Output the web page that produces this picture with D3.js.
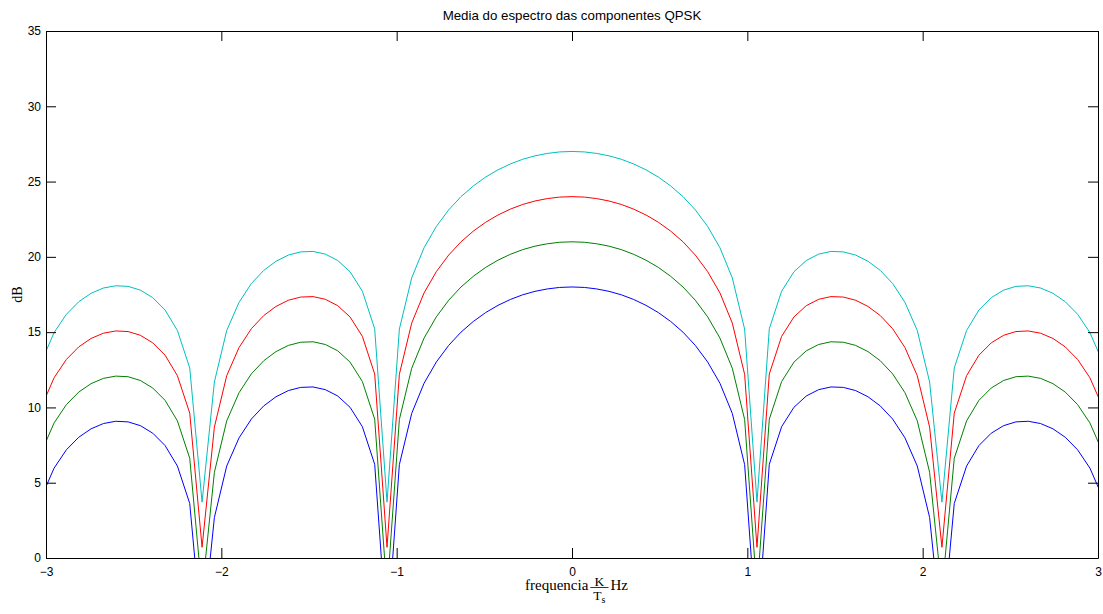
<!DOCTYPE html>
<html><head><meta charset="utf-8">
<script src="https://cdn.jsdelivr.net/npm/d3@7"></script>
<style>body{margin:0;background:#fff;} svg{display:block}</style>
</head><body>
<svg id="chart" width="1103" height="614"></svg>
<script>
// ---- data ----
const frequency = [-3.0242,-2.9539,-2.8835,-2.8132,-2.7429,-2.6725,-2.6022,-2.5319,-2.4616,-2.3912,-2.3209,-2.2506,-2.1802,-2.1099,-2.0396,-1.9692,-1.8989,-1.8286,-1.7583,-1.6879,-1.6176,-1.5473,-1.4769,-1.4066,-1.3363,-1.2659,-1.1956,-1.1253,-1.0550,-0.9846,-0.9143,-0.8440,-0.7736,-0.7033,-0.6330,-0.5626,-0.4923,-0.4220,-0.3517,-0.2813,-0.2110,-0.1407,-0.0703,0,0.0703,0.1407,0.2110,0.2813,0.3517,0.4220,0.4923,0.5626,0.6330,0.7033,0.7736,0.8440,0.9143,0.9846,1.0550,1.1253,1.1956,1.2659,1.3363,1.4066,1.4769,1.5473,1.6176,1.6879,1.7583,1.8286,1.8989,1.9692,2.0396,2.1099,2.1802,2.2506,2.3209,2.3912,2.4616,2.5319,2.6022,2.6725,2.7429,2.8132,2.8835,2.9539,3.0242];

const blueSeries = [4.09,5.97,7.19,8.02,8.58,8.93,9.08,9.04,8.79,8.29,7.47,6.11,3.62,-5.29,2.69,6.11,7.98,9.23,10.10,10.71,11.12,11.33,11.36,11.18,10.76,10.01,8.72,6.22,-5.29,6.20,9.60,11.60,13.02,14.12,15.00,15.71,16.30,16.78,17.17,17.48,17.71,17.87,17.97,18.00,17.97,17.87,17.71,17.48,17.17,16.78,16.30,15.71,15.00,14.12,13.02,11.60,9.60,6.20,-5.29,6.22,8.72,10.01,10.76,11.18,11.36,11.33,11.12,10.71,10.10,9.23,7.98,6.11,2.69,-5.29,3.62,6.11,7.47,8.29,8.79,9.04,9.08,8.93,8.58,8.02,7.19,5.97,4.09];

const greenSeries = [7.09,8.97,10.19,11.02,11.58,11.93,12.08,12.04,11.79,11.29,10.47,9.11,6.62,-2.29,5.69,9.11,10.98,12.23,13.10,13.71,14.12,14.33,14.36,14.18,13.76,13.01,11.72,9.22,-2.29,9.20,12.60,14.60,16.02,17.12,18.00,18.71,19.30,19.78,20.17,20.48,20.71,20.87,20.97,21.00,20.97,20.87,20.71,20.48,20.17,19.78,19.30,18.71,18.00,17.12,16.02,14.60,12.60,9.20,-2.29,9.22,11.72,13.01,13.76,14.18,14.36,14.33,14.12,13.71,13.10,12.23,10.98,9.11,5.69,-2.29,6.62,9.11,10.47,11.29,11.79,12.04,12.08,11.93,11.58,11.02,10.19,8.97,7.09];

const redSeries = [10.09,11.97,13.19,14.02,14.58,14.93,15.08,15.04,14.79,14.29,13.47,12.11,9.62,0.71,8.69,12.11,13.98,15.23,16.10,16.71,17.12,17.33,17.36,17.18,16.76,16.01,14.72,12.22,0.71,12.20,15.60,17.60,19.02,20.12,21.00,21.71,22.30,22.78,23.17,23.48,23.71,23.87,23.97,24.00,23.97,23.87,23.71,23.48,23.17,22.78,22.30,21.71,21.00,20.12,19.02,17.60,15.60,12.20,0.71,12.22,14.72,16.01,16.76,17.18,17.36,17.33,17.12,16.71,16.10,15.23,13.98,12.11,8.69,0.71,9.62,12.11,13.47,14.29,14.79,15.04,15.08,14.93,14.58,14.02,13.19,11.97,10.09];

const cyanSeries = [13.09,14.97,16.19,17.02,17.58,17.93,18.08,18.04,17.79,17.29,16.47,15.11,12.62,3.71,11.69,15.11,16.98,18.23,19.10,19.71,20.12,20.33,20.36,20.18,19.76,19.01,17.72,15.22,3.71,15.20,18.60,20.60,22.02,23.12,24.00,24.71,25.30,25.78,26.17,26.48,26.71,26.87,26.97,27.00,26.97,26.87,26.71,26.48,26.17,25.78,25.30,24.71,24.00,23.12,22.02,20.60,18.60,15.20,3.71,15.22,17.72,19.01,19.76,20.18,20.36,20.33,20.12,19.71,19.10,18.23,16.98,15.11,11.69,3.71,12.62,15.11,16.47,17.29,17.79,18.04,18.08,17.93,17.58,17.02,16.19,14.97,13.09];

const seriesNames = ["blue","green","red","cyan"];
const xTicks = [-3,-2,-1,0,1,2,3];
const yTicks = [0,5,10,15,20,25,30,35];
const xDomain = [-3, 3];
const yDomain = [0, 35];
const titleText = "Media do espectro das componentes QPSK";
const yLabelText = "dB";

// ---- layout / style ----
const seriesColors = {blue:"#0000ff", green:"#008000", red:"#ff0000", cyan:"#00bfbf"};
const seriesData = {blue:blueSeries, green:greenSeries, red:redSeries, cyan:cyanSeries};
const W = 1103, H = 614;
const plot = {left:46, top:31, right:1098, bottom:558};

const svg = d3.select("#chart");
svg.append("rect").attr("width",W).attr("height",H).attr("fill","#fff");

const x = d3.scaleLinear().domain(xDomain).range([plot.left, plot.right]);
const y = d3.scaleLinear().domain(yDomain).range([plot.bottom, plot.top]);

svg.append("defs").append("clipPath").attr("id","clip")
  .append("rect").attr("x",plot.left).attr("y",plot.top)
  .attr("width",plot.right-plot.left).attr("height",plot.bottom-plot.top);

const line = d3.line().x((d,i)=>x(frequency[i])).y(d=>y(d));
const lines = svg.append("g").attr("clip-path","url(#clip)");
seriesNames.forEach(name=>{
  lines.append("path").datum(seriesData[name])
    .attr("d", line).attr("fill","none")
    .attr("stroke", seriesColors[name]).attr("stroke-width",1);
});

const tickFont = "'Liberation Sans', Arial, Helvetica, sans-serif";
function styleAxis(g){
  g.selectAll("path.domain").attr("stroke","#000");
  g.selectAll(".tick line").attr("stroke","#000");
  g.selectAll("text").attr("fill","#000").style("font-family",tickFont).style("font-size","12px");
}
svg.append("g").attr("transform",`translate(0,${plot.bottom})`)
  .call(d3.axisBottom(x).tickValues(xTicks).tickSize(-10).tickSizeOuter(0).tickPadding(9).tickFormat(d3.format("d")))
  .call(styleAxis);
svg.append("g").attr("transform",`translate(0,${plot.top})`)
  .call(d3.axisTop(x).tickValues(xTicks).tickSize(-10).tickSizeOuter(0).tickFormat(""))
  .call(styleAxis);
svg.append("g").attr("transform",`translate(${plot.left},0)`)
  .call(d3.axisLeft(y).tickValues(yTicks).tickSize(-10).tickSizeOuter(0).tickPadding(5).tickFormat(d3.format("d")))
  .call(styleAxis);
svg.append("g").attr("transform",`translate(${plot.right},0)`)
  .call(d3.axisRight(y).tickValues(yTicks).tickSize(-10).tickSizeOuter(0).tickFormat(""))
  .call(styleAxis);

// title
svg.append("text").attr("x",(plot.left+plot.right)/2).attr("y",20)
  .attr("text-anchor","middle").style("font-family",tickFont).style("font-size","13.3px")
  .attr("fill","#000").text(titleText);

// y label
const serif = "'Liberation Serif', 'Times New Roman', serif";
svg.append("text").attr("transform",`translate(22,${(plot.top+plot.bottom)/2}) rotate(-90)`)
  .attr("text-anchor","middle").style("font-family",serif).style("font-size","14px")
  .attr("fill","#000").text(yLabelText);

// x label: frequencia (K / T_s) Hz
const xl = svg.append("g");
const fs = 15;
const t1 = xl.append("text").style("font-family",serif).style("font-size",fs+"px").attr("fill","#000").text("frequencia");
const tK = xl.append("text").style("font-family",serif).style("font-size","13.5px").attr("fill","#000").attr("text-anchor","middle").text("K");
const tT = xl.append("text").style("font-family",serif).style("font-size","13.5px").attr("fill","#000").attr("text-anchor","middle");
tT.append("tspan").text("T");
tT.append("tspan").style("font-size","10px").attr("dy",3).text("s");
const t2 = xl.append("text").style("font-family",serif).style("font-size",fs+"px").attr("fill","#000").text("Hz");
const w1 = t1.node().getComputedTextLength();
const wF = Math.max(tK.node().getComputedTextLength(), tT.node().getComputedTextLength()) + 6;
const w2 = t2.node().getComputedTextLength();
const gap = 2;
const total = w1 + gap + wF + gap + w2;
let sx = 576.5 - total/2;
const base = 590;
t1.attr("x", sx).attr("y", base);
const fx = sx + w1 + gap;
xl.append("line").attr("x1",fx).attr("x2",fx+wF).attr("y1",base-2.5).attr("y2",base-2.5).attr("stroke","#000").attr("stroke-width",0.8);
tK.attr("x", fx+wF/2).attr("y", base-4.5);
tT.attr("x", fx+wF/2).attr("y", base+9.5);
t2.attr("x", fx+wF+gap).attr("y", base);
</script>
</body></html>
